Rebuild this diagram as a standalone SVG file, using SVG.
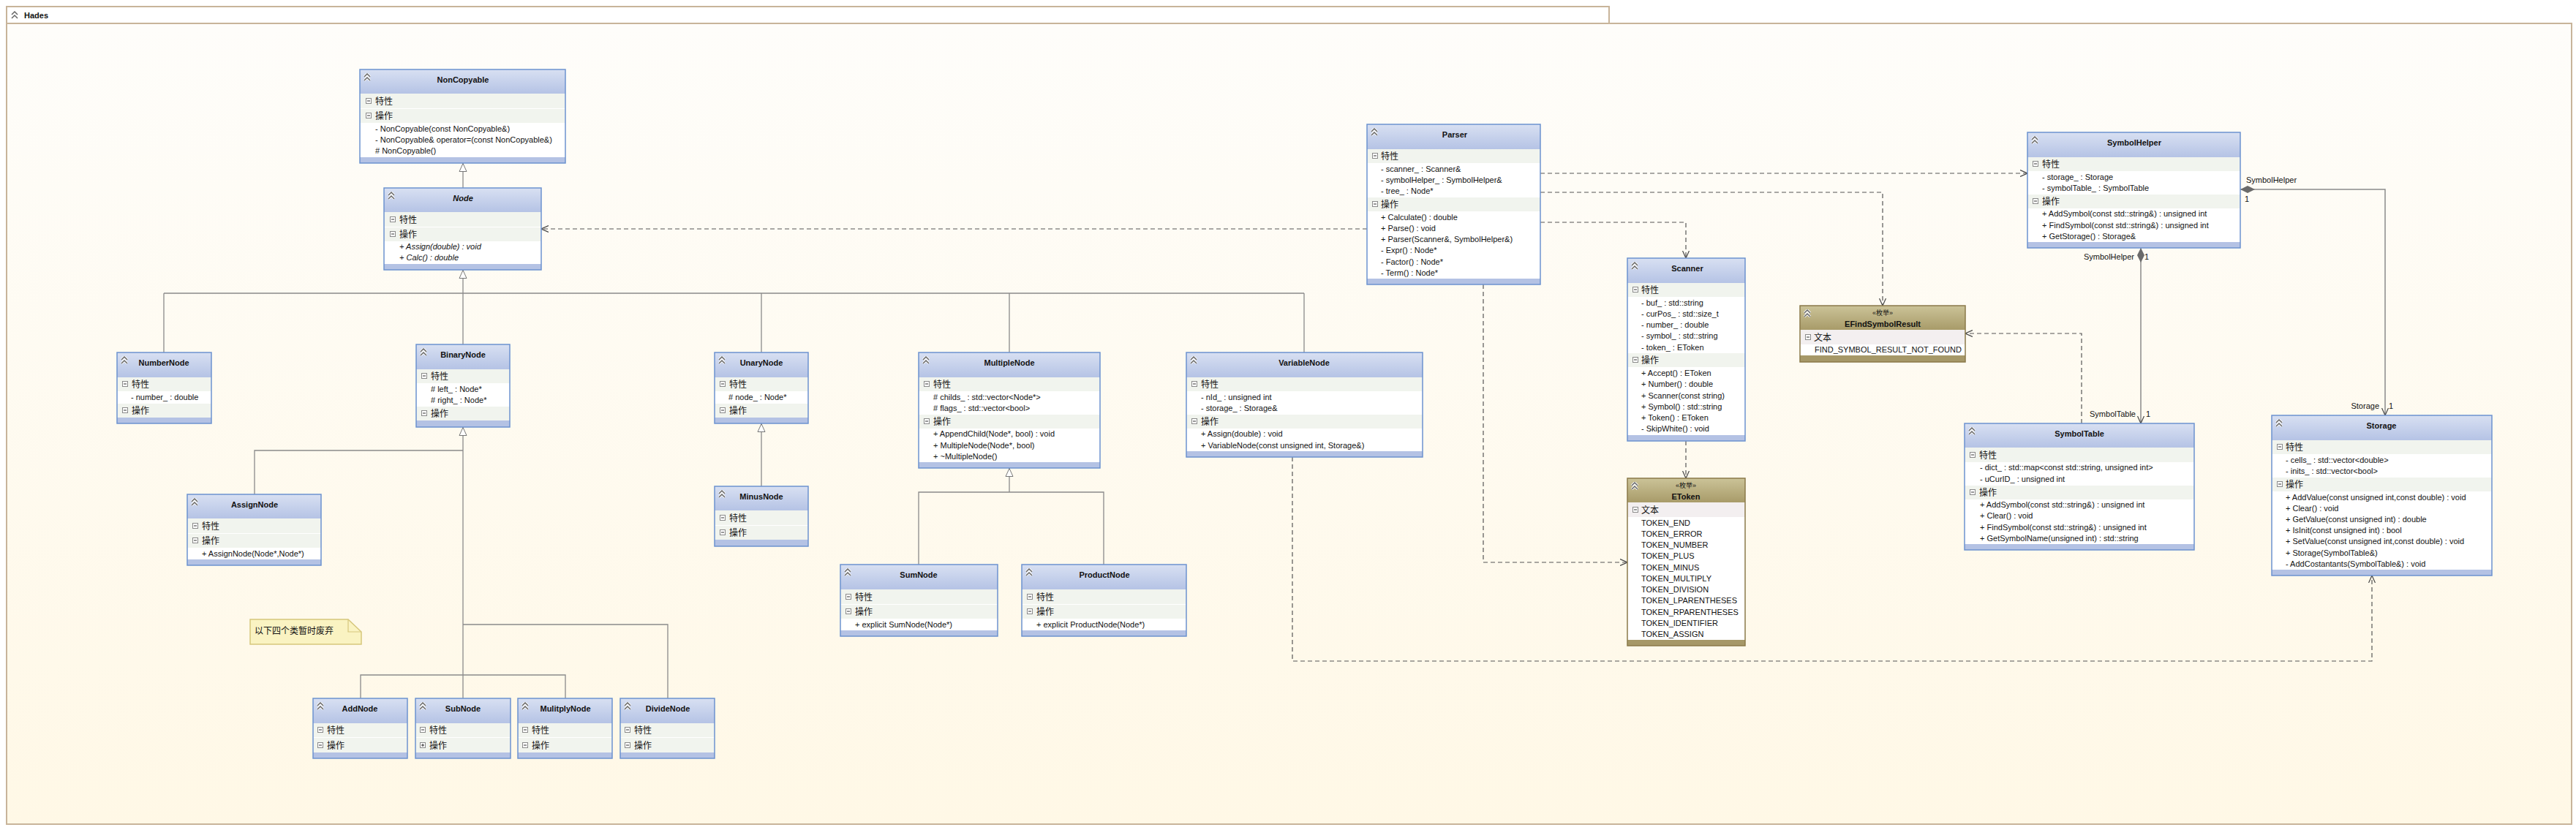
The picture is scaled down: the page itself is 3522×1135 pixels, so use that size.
<svg xmlns="http://www.w3.org/2000/svg" xmlns:xlink="http://www.w3.org/1999/xlink" width="3522" height="1135" viewBox="0 0 3522 1135">
<defs>
<linearGradient id="bg" x1="0" y1="0" x2="0" y2="1"><stop offset="0" stop-color="#FEFDFA"/><stop offset="1" stop-color="#FFF8E6"/></linearGradient>
<linearGradient id="gb" x1="0" y1="0" x2="0" y2="1"><stop offset="0" stop-color="#D8E0F2"/><stop offset="1" stop-color="#B5C3E5"/></linearGradient>
<linearGradient id="ge" x1="0" y1="0" x2="0" y2="1"><stop offset="0" stop-color="#CBC398"/><stop offset="1" stop-color="#A89B69"/></linearGradient>
<symbol id="chev" viewBox="0 0 10 11"><path d="M1,5 L5,1 L9,5 M1,10 L5,6 L9,10" fill="none" stroke="#fff" stroke-width="3.2"/><path d="M1,5 L5,1 L9,5 M1,10 L5,6 L9,10" fill="none" stroke="#666" stroke-width="1.5"/></symbol>
<symbol id="mn" viewBox="0 0 8 8"><rect x="0.5" y="0.5" width="7" height="7" fill="#fff" stroke="#8A8A8A"/><path d="M2,4 H6" stroke="#333"/></symbol>
<symbol id="pl" viewBox="0 0 8 8"><rect x="0.5" y="0.5" width="7" height="7" fill="#fff" stroke="#8A8A8A"/><path d="M2,4 H6 M4,2 V6" stroke="#333"/></symbol>
<marker id="open" viewBox="0 0 10 10" refX="10" refY="5" markerWidth="10" markerHeight="10" orient="auto" markerUnits="userSpaceOnUse"><path d="M0,0.5 L10,5 L0,9.5" fill="none" stroke="#444" stroke-width="1.2"/></marker>
<marker id="tri" viewBox="0 0 12 12" refX="12" refY="6" markerWidth="12" markerHeight="12" orient="auto" markerUnits="userSpaceOnUse"><path d="M0.5,1 L11.5,6 L0.5,11 Z" fill="#fff" stroke="#777" stroke-width="1"/></marker>
<marker id="dia" viewBox="0 0 20 10" refX="0" refY="5" markerWidth="20" markerHeight="10" orient="auto" markerUnits="userSpaceOnUse"><path d="M0,5 L10,0 L20,5 L10,10 Z" fill="#6A6A6A"/></marker>
</defs>
<style>
.frame{fill:url(#bg);stroke:#C8B49A;stroke-width:2}
.tab{fill:#fff;stroke:#C8B49A;stroke-width:2}
.cls{fill:#fff}
.hd{fill:url(#gb)}
.ehd{fill:url(#ge)}
.sec{fill:#F1F4EE}
.esec{fill:#F3EFF0}
.bar{fill:#B4C2E4}
.ebar{fill:#A69868}
.bd{fill:none;stroke:#6C92CF;stroke-width:1.5}
.ebd{fill:none;stroke:#8B7A4A;stroke-width:1.5}
text{font-family:"Liberation Sans","Noto Sans CJK SC",Arial,sans-serif;fill:#111}
.nm{font-size:11px;font-weight:bold;text-anchor:middle}
.st{font-size:9px;text-anchor:middle;font-family:"Liberation Sans","Noto Sans CJK SC",sans-serif}
.cm{font-size:12px;font-family:"Noto Sans CJK SC",sans-serif}
.it{font-size:11px}
.ii{font-size:11px;font-style:italic}
.lb{font-size:11px}
.gen{fill:none;stroke:#8A8A8A;stroke-width:1.3}
.dep{fill:none;stroke:#555;stroke-width:1.2;stroke-dasharray:6 4}
.cmp{fill:none;stroke:#8A8A8A;stroke-width:1.5}
.note{fill:#FAF3C2;stroke:#D6C77C;stroke-width:1.5}
</style>

<g id="frame">
<rect class="frame" x="9" y="32" width="3507" height="1095"/>
<rect class="tab" x="9" y="9" width="2191" height="23"/>
<use href="#chev" x="15" y="15" width="10" height="11"/>
<text x="33" y="25" style="font-size:11px;font-weight:bold">Hades</text>
</g>

<g id="connectors">
<!-- generalizations -->
<path class="gen" d="M633,257 V223" marker-end="url(#tri)"/>
<path class="gen" d="M633,401 V369" marker-end="url(#tri)"/>
<path class="gen" d="M224,401 H1783 M224,401 V482 M633,401 V471 M1041,401 V482 M1380,401 V482 M1783,401 V482"/>
<path class="gen" d="M633,955 V584" marker-end="url(#tri)"/>
<path class="gen" d="M633,616 H348 V676 M633,854 H913 V955 M493,955 V923 H773 V955"/>
<path class="gen" d="M1041,665 V579" marker-end="url(#tri)"/>
<path class="gen" d="M1380,673 V640" marker-end="url(#tri)"/>
<path class="gen" d="M1256,772 V673 H1509 V772"/>
<!-- dependencies -->
<path class="dep" d="M1869,313 H740" marker-end="url(#open)"/>
<path class="dep" d="M2106,237 H2772" marker-end="url(#open)"/>
<path class="dep" d="M2106,263 H2574 V418" marker-end="url(#open)"/>
<path class="dep" d="M2106,304 H2305 V353" marker-end="url(#open)"/>
<path class="dep" d="M2028,389 V769 H2225" marker-end="url(#open)"/>
<path class="dep" d="M2305,603 V654" marker-end="url(#open)"/>
<path class="dep" d="M2846,579 V456 H2687" marker-end="url(#open)"/>
<path class="dep" d="M1767,625 V904 H3243 V787" marker-end="url(#open)"/>
<!-- compositions -->
<path class="cmp" d="M3063,259 H3261 V568" marker-start="url(#dia)" marker-end="url(#open)"/>
<path class="cmp" d="M2927,339 V579" marker-start="url(#dia)" marker-end="url(#open)"/>
<text class="lb" x="3071" y="250">SymbolHelper</text>
<text class="lb" x="3069" y="276">1</text>
<text class="lb" x="3253" y="559" text-anchor="end">Storage</text>
<text class="lb" x="3266" y="559">1</text>
<text class="lb" x="2918" y="355" text-anchor="end">SymbolHelper</text>
<text class="lb" x="2932" y="355">1</text>
<text class="lb" x="2920" y="570" text-anchor="end">SymbolTable</text>
<text class="lb" x="2934" y="570">1</text>
</g>

<g id="NonCopyable" transform="translate(492,95)">
<rect class="cls" width="281" height="128"/>
<rect class="hd" width="281" height="33"/>
<use href="#chev" x="5" y="5" width="10" height="11"/>
<text class="nm" x="141" y="18">NonCopyable</text>
<rect class="sec" y="33" width="281" height="20"/><use href="#mn" x="8" y="39" width="8" height="8"/><text class="cm" x="21" y="48">特性</text>
<rect class="sec" y="54" width="281" height="19"/><use href="#mn" x="8" y="59" width="8" height="8"/><text class="cm" x="21" y="68">操作</text>
<text class="it" x="21" y="85">- NonCopyable(const NonCopyable&amp;)</text>
<text class="it" x="21" y="100">- NonCopyable&amp; operator=(const NonCopyable&amp;)</text>
<text class="it" x="21" y="115"># NonCopyable()</text>
<rect class="bar" y="120" width="281" height="8"/>
<rect class="bd" width="281" height="128"/>
</g>

<g id="Node" transform="translate(525,257)">
<rect class="cls" width="215" height="112"/>
<rect class="hd" width="215" height="33"/>
<use href="#chev" x="5" y="5" width="10" height="11"/>
<text class="nm" x="108" y="18" font-style="italic">Node</text>
<rect class="sec" y="33" width="215" height="20"/><use href="#mn" x="8" y="39" width="8" height="8"/><text class="cm" x="21" y="48">特性</text>
<rect class="sec" y="54" width="215" height="19"/><use href="#mn" x="8" y="59" width="8" height="8"/><text class="cm" x="21" y="68">操作</text>
<text class="ii" x="21" y="84">+ Assign(double) : void</text>
<text class="ii" x="21" y="99">+ Calc() : double</text>
<rect class="bar" y="104" width="215" height="8"/>
<rect class="bd" width="215" height="112"/>
</g>

<g id="NumberNode" transform="translate(160,482)">
<rect class="cls" width="129" height="97"/>
<rect class="hd" width="129" height="34"/>
<use href="#chev" x="5" y="5" width="10" height="11"/>
<text class="nm" x="64" y="18">NumberNode</text>
<rect class="sec" y="34" width="129" height="19"/><use href="#mn" x="7" y="39" width="8" height="8"/><text class="cm" x="20" y="48">特性</text>
<text class="it" x="19" y="65">- number_ : double</text>
<rect class="sec" y="70" width="129" height="19"/><use href="#mn" x="7" y="75" width="8" height="8"/><text class="cm" x="20" y="84">操作</text>
<rect class="bar" y="89" width="129" height="8"/>
<rect class="bd" width="129" height="97"/>
</g>

<g id="BinaryNode" transform="translate(569,471)">
<rect class="cls" width="128" height="113"/>
<rect class="hd" width="128" height="34"/>
<use href="#chev" x="5" y="5" width="10" height="11"/>
<text class="nm" x="64" y="18">BinaryNode</text>
<rect class="sec" y="34" width="128" height="19"/><use href="#mn" x="7" y="39" width="8" height="8"/><text class="cm" x="20" y="48">特性</text>
<text class="it" x="20" y="65"># left_ : Node*</text>
<text class="it" x="20" y="80"># right_ : Node*</text>
<rect class="sec" y="85" width="128" height="19"/><use href="#mn" x="7" y="90" width="8" height="8"/><text class="cm" x="20" y="99">操作</text>
<rect class="bar" y="104" width="128" height="9"/>
<rect class="bd" width="128" height="113"/>
</g>

<g id="UnaryNode" transform="translate(977,482)">
<rect class="cls" width="128" height="97"/>
<rect class="hd" width="128" height="34"/>
<use href="#chev" x="5" y="5" width="10" height="11"/>
<text class="nm" x="64" y="18">UnaryNode</text>
<rect class="sec" y="34" width="128" height="19"/><use href="#mn" x="7" y="39" width="8" height="8"/><text class="cm" x="20" y="48">特性</text>
<text class="it" x="19" y="65"># node_ : Node*</text>
<rect class="sec" y="70" width="128" height="19"/><use href="#mn" x="7" y="75" width="8" height="8"/><text class="cm" x="20" y="84">操作</text>
<rect class="bar" y="89" width="128" height="8"/>
<rect class="bd" width="128" height="97"/>
</g>

<g id="MinusNode" transform="translate(977,665)">
<rect class="cls" width="128" height="82"/>
<rect class="hd" width="128" height="33"/>
<use href="#chev" x="5" y="5" width="10" height="11"/>
<text class="nm" x="64" y="18">MinusNode</text>
<rect class="sec" y="33" width="128" height="20"/><use href="#mn" x="7" y="39" width="8" height="8"/><text class="cm" x="20" y="48">特性</text>
<rect class="sec" y="54" width="128" height="19"/><use href="#mn" x="7" y="59" width="8" height="8"/><text class="cm" x="20" y="68">操作</text>
<rect class="bar" y="73" width="128" height="9"/>
<rect class="bd" width="128" height="82"/>
</g>

<g id="AssignNode" transform="translate(256,676)">
<rect class="cls" width="183" height="97"/>
<rect class="hd" width="183" height="33"/>
<use href="#chev" x="5" y="5" width="10" height="11"/>
<text class="nm" x="92" y="18">AssignNode</text>
<rect class="sec" y="33" width="183" height="20"/><use href="#mn" x="7" y="39" width="8" height="8"/><text class="cm" x="20" y="48">特性</text>
<rect class="sec" y="54" width="183" height="19"/><use href="#mn" x="7" y="59" width="8" height="8"/><text class="cm" x="20" y="68">操作</text>
<text class="it" x="20" y="85">+ AssignNode(Node*,Node*)</text>
<rect class="bar" y="89" width="183" height="8"/>
<rect class="bd" width="183" height="97"/>
</g>

<g id="note">
<path class="note" d="M342,847 H476 L494,864 V881 H342 Z"/>
<path d="M476,847 V864 H494" fill="none" stroke="#D6C77C" stroke-width="1.2"/>
<text class="cm" x="348" y="867">以下四个类暂时废弃</text>
</g>

<g id="AddNode" transform="translate(428,955)">
<rect class="cls" width="129" height="82"/>
<rect class="hd" width="129" height="34"/>
<use href="#chev" x="5" y="5" width="10" height="11"/>
<text class="nm" x="64" y="18">AddNode</text>
<rect class="sec" y="34" width="129" height="19"/><use href="#mn" x="6" y="39" width="8" height="8"/><text class="cm" x="19" y="48">特性</text>
<rect class="sec" y="54" width="129" height="20"/><use href="#mn" x="6" y="60" width="8" height="8"/><text class="cm" x="19" y="69">操作</text>
<rect class="bar" y="74" width="129" height="8"/>
<rect class="bd" width="129" height="82"/>
</g>

<g id="SubNode" transform="translate(568,955)">
<rect class="cls" width="130" height="82"/>
<rect class="hd" width="130" height="34"/>
<use href="#chev" x="5" y="5" width="10" height="11"/>
<text class="nm" x="65" y="18">SubNode</text>
<rect class="sec" y="34" width="130" height="19"/><use href="#mn" x="6" y="39" width="8" height="8"/><text class="cm" x="19" y="48">特性</text>
<rect class="sec" y="54" width="130" height="20"/><use href="#pl" x="6" y="60" width="8" height="8"/><text class="cm" x="19" y="69">操作</text>
<rect class="bar" y="74" width="130" height="8"/>
<rect class="bd" width="130" height="82"/>
</g>

<g id="MulitplyNode" transform="translate(708,955)">
<rect class="cls" width="129" height="82"/>
<rect class="hd" width="129" height="34"/>
<use href="#chev" x="5" y="5" width="10" height="11"/>
<text class="nm" x="65" y="18">MulitplyNode</text>
<rect class="sec" y="34" width="129" height="19"/><use href="#mn" x="6" y="39" width="8" height="8"/><text class="cm" x="19" y="48">特性</text>
<rect class="sec" y="54" width="129" height="20"/><use href="#mn" x="6" y="60" width="8" height="8"/><text class="cm" x="19" y="69">操作</text>
<rect class="bar" y="74" width="129" height="8"/>
<rect class="bd" width="129" height="82"/>
</g>

<g id="DivideNode" transform="translate(848,955)">
<rect class="cls" width="129" height="82"/>
<rect class="hd" width="129" height="34"/>
<use href="#chev" x="5" y="5" width="10" height="11"/>
<text class="nm" x="65" y="18">DivideNode</text>
<rect class="sec" y="34" width="129" height="19"/><use href="#mn" x="6" y="39" width="8" height="8"/><text class="cm" x="19" y="48">特性</text>
<rect class="sec" y="54" width="129" height="20"/><use href="#mn" x="6" y="60" width="8" height="8"/><text class="cm" x="19" y="69">操作</text>
<rect class="bar" y="74" width="129" height="8"/>
<rect class="bd" width="129" height="82"/>
</g>

<g id="MultipleNode" transform="translate(1256,482)">
<rect class="cls" width="248" height="158"/>
<rect class="hd" width="248" height="34"/>
<use href="#chev" x="5" y="5" width="10" height="11"/>
<text class="nm" x="124" y="18">MultipleNode</text>
<rect class="sec" y="34" width="248" height="19"/><use href="#mn" x="7" y="39" width="8" height="8"/><text class="cm" x="20" y="48">特性</text>
<text class="it" x="20" y="65"># childs_ : std::vector&lt;Node*&gt;</text>
<text class="it" x="20" y="80"># flags_ : std::vector&lt;bool&gt;</text>
<rect class="sec" y="85" width="248" height="19"/><use href="#mn" x="7" y="90" width="8" height="8"/><text class="cm" x="20" y="99">操作</text>
<text class="it" x="20" y="115">+ AppendChild(Node*, bool) : void</text>
<text class="it" x="20" y="131">+ MultipleNode(Node*, bool)</text>
<text class="it" x="20" y="146">+ ~MultipleNode()</text>
<rect class="bar" y="150" width="248" height="8"/>
<rect class="bd" width="248" height="158"/>
</g>

<g id="SumNode" transform="translate(1149,772)">
<rect class="cls" width="215" height="98"/>
<rect class="hd" width="215" height="34"/>
<use href="#chev" x="5" y="5" width="10" height="11"/>
<text class="nm" x="107" y="18">SumNode</text>
<rect class="sec" y="34" width="215" height="20"/><use href="#mn" x="7" y="40" width="8" height="8"/><text class="cm" x="20" y="49">特性</text>
<rect class="sec" y="55" width="215" height="19"/><use href="#mn" x="7" y="60" width="8" height="8"/><text class="cm" x="20" y="69">操作</text>
<text class="it" x="20" y="86">+ explicit SumNode(Node*)</text>
<rect class="bar" y="90" width="215" height="8"/>
<rect class="bd" width="215" height="98"/>
</g>

<g id="ProductNode" transform="translate(1397,772)">
<rect class="cls" width="225" height="98"/>
<rect class="hd" width="225" height="34"/>
<use href="#chev" x="5" y="5" width="10" height="11"/>
<text class="nm" x="113" y="18">ProductNode</text>
<rect class="sec" y="34" width="225" height="20"/><use href="#mn" x="7" y="40" width="8" height="8"/><text class="cm" x="20" y="49">特性</text>
<rect class="sec" y="55" width="225" height="19"/><use href="#mn" x="7" y="60" width="8" height="8"/><text class="cm" x="20" y="69">操作</text>
<text class="it" x="20" y="86">+ explicit ProductNode(Node*)</text>
<rect class="bar" y="90" width="225" height="8"/>
<rect class="bd" width="225" height="98"/>
</g>

<g id="VariableNode" transform="translate(1622,482)">
<rect class="cls" width="323" height="143"/>
<rect class="hd" width="323" height="34"/>
<use href="#chev" x="5" y="5" width="10" height="11"/>
<text class="nm" x="161" y="18">VariableNode</text>
<rect class="sec" y="34" width="323" height="19"/><use href="#mn" x="7" y="39" width="8" height="8"/><text class="cm" x="20" y="48">特性</text>
<text class="it" x="20" y="65">- nId_ : unsigned int</text>
<text class="it" x="20" y="80">- storage_ : Storage&amp;</text>
<rect class="sec" y="85" width="323" height="19"/><use href="#mn" x="7" y="90" width="8" height="8"/><text class="cm" x="20" y="99">操作</text>
<text class="it" x="20" y="115">+ Assign(double) : void</text>
<text class="it" x="20" y="131">+ VariableNode(const unsigned int, Storage&amp;)</text>
<rect class="bar" y="135" width="323" height="8"/>
<rect class="bd" width="323" height="143"/>
</g>

<g id="Parser" transform="translate(1869,170)">
<rect class="cls" width="237" height="219"/>
<rect class="hd" width="237" height="34"/>
<use href="#chev" x="5" y="5" width="10" height="11"/>
<text class="nm" x="120" y="18">Parser</text>
<rect class="sec" y="34" width="237" height="19"/><use href="#mn" x="7" y="39" width="8" height="8"/><text class="cm" x="19" y="48">特性</text>
<text class="it" x="19" y="65">- scanner_ : Scanner&amp;</text>
<text class="it" x="19" y="80">- symbolHelper_ : SymbolHelper&amp;</text>
<text class="it" x="19" y="95">- tree_ : Node*</text>
<rect class="sec" y="100" width="237" height="19"/><use href="#mn" x="7" y="105" width="8" height="8"/><text class="cm" x="19" y="114">操作</text>
<text class="it" x="19" y="131">+ Calculate() : double</text>
<text class="it" x="19" y="146">+ Parse() : void</text>
<text class="it" x="19" y="161">+ Parser(Scanner&amp;, SymbolHelper&amp;)</text>
<text class="it" x="19" y="176">- Expr() : Node*</text>
<text class="it" x="19" y="192">- Factor() : Node*</text>
<text class="it" x="19" y="207">- Term() : Node*</text>
<rect class="bar" y="211" width="237" height="8"/>
<rect class="bd" width="237" height="219"/>
</g>

<g id="Scanner" transform="translate(2225,353)">
<rect class="cls" width="161" height="250"/>
<rect class="hd" width="161" height="34"/>
<use href="#chev" x="5" y="5" width="10" height="11"/>
<text class="nm" x="82" y="18">Scanner</text>
<rect class="sec" y="34" width="161" height="19"/><use href="#mn" x="7" y="39" width="8" height="8"/><text class="cm" x="19" y="48">特性</text>
<text class="it" x="19" y="65">- buf_ : std::string</text>
<text class="it" x="19" y="80">- curPos_ : std::size_t</text>
<text class="it" x="19" y="95">- number_ : double</text>
<text class="it" x="19" y="110">- symbol_ : std::string</text>
<text class="it" x="19" y="126">- token_ : EToken</text>
<rect class="sec" y="130" width="161" height="19"/><use href="#mn" x="7" y="135" width="8" height="8"/><text class="cm" x="19" y="144">操作</text>
<text class="it" x="19" y="161">+ Accept() : EToken</text>
<text class="it" x="19" y="176">+ Number() : double</text>
<text class="it" x="19" y="192">+ Scanner(const string)</text>
<text class="it" x="19" y="207">+ Symbol() : std::string</text>
<text class="it" x="19" y="222">+ Token() : EToken</text>
<text class="it" x="19" y="237">- SkipWhite() : void</text>
<rect class="bar" y="242" width="161" height="8"/>
<rect class="bd" width="161" height="250"/>
</g>

<g id="EToken" transform="translate(2225,654)">
<rect class="cls" width="161" height="229"/>
<rect class="ehd" width="161" height="33"/>
<use href="#chev" x="5" y="5" width="10" height="11"/>
<text class="st" x="80" y="13">«枚举»</text>
<text class="nm" x="80" y="29">EToken</text>
<rect class="esec" y="33" width="161" height="20"/><use href="#mn" x="7" y="39" width="8" height="8"/><text class="cm" x="19" y="48">文本</text>
<text class="it" x="19" y="65">TOKEN_END</text>
<text class="it" x="19" y="80">TOKEN_ERROR</text>
<text class="it" x="19" y="95">TOKEN_NUMBER</text>
<text class="it" x="19" y="110">TOKEN_PLUS</text>
<text class="it" x="19" y="126">TOKEN_MINUS</text>
<text class="it" x="19" y="141">TOKEN_MULTIPLY</text>
<text class="it" x="19" y="156">TOKEN_DIVISION</text>
<text class="it" x="19" y="171">TOKEN_LPARENTHESES</text>
<text class="it" x="19" y="187">TOKEN_RPARENTHESES</text>
<text class="it" x="19" y="202">TOKEN_IDENTIFIER</text>
<text class="it" x="19" y="217">TOKEN_ASSIGN</text>
<rect class="ebar" y="221" width="161" height="8"/>
<rect class="ebd" width="161" height="229"/>
</g>

<g id="EFindSymbolResult" transform="translate(2461,418)">
<rect class="cls" width="226" height="77"/>
<rect class="ehd" width="226" height="33"/>
<use href="#chev" x="5" y="5" width="10" height="11"/>
<text class="st" x="113" y="13">«枚举»</text>
<text class="nm" x="113" y="29">EFindSymbolResult</text>
<rect class="esec" y="33" width="226" height="20"/><use href="#mn" x="7" y="39" width="8" height="8"/><text class="cm" x="19" y="48">文本</text>
<text class="it" x="20" y="64">FIND_SYMBOL_RESULT_NOT_FOUND</text>
<rect class="ebar" y="68" width="226" height="9"/>
<rect class="ebd" width="226" height="77"/>
</g>

<g id="SymbolHelper" transform="translate(2772,181)">
<rect class="cls" width="291" height="158"/>
<rect class="hd" width="291" height="34"/>
<use href="#chev" x="5" y="5" width="10" height="11"/>
<text class="nm" x="146" y="18">SymbolHelper</text>
<rect class="sec" y="34" width="291" height="19"/><use href="#mn" x="7" y="39" width="8" height="8"/><text class="cm" x="20" y="48">特性</text>
<text class="it" x="20" y="65">- storage_ : Storage</text>
<text class="it" x="20" y="80">- symbolTable_ : SymbolTable</text>
<rect class="sec" y="85" width="291" height="19"/><use href="#mn" x="7" y="90" width="8" height="8"/><text class="cm" x="20" y="99">操作</text>
<text class="it" x="20" y="115">+ AddSymbol(const std::string&amp;) : unsigned int</text>
<text class="it" x="20" y="131">+ FindSymbol(const std::string&amp;) : unsigned int</text>
<text class="it" x="20" y="146">+ GetStorage() : Storage&amp;</text>
<rect class="bar" y="150" width="291" height="8"/>
<rect class="bd" width="291" height="158"/>
</g>

<g id="SymbolTable" transform="translate(2686,579)">
<rect class="cls" width="314" height="173"/>
<rect class="hd" width="314" height="33"/>
<use href="#chev" x="5" y="5" width="10" height="11"/>
<text class="nm" x="157" y="18">SymbolTable</text>
<rect class="sec" y="33" width="314" height="20"/><use href="#mn" x="7" y="39" width="8" height="8"/><text class="cm" x="20" y="48">特性</text>
<text class="it" x="21" y="64">- dict_ : std::map&lt;const std::string, unsigned int&gt;</text>
<text class="it" x="21" y="80">- uCurID_ : unsigned int</text>
<rect class="sec" y="85" width="314" height="19"/><use href="#mn" x="7" y="90" width="8" height="8"/><text class="cm" x="20" y="99">操作</text>
<text class="it" x="21" y="115">+ AddSymbol(const std::string&amp;) : unsigned int</text>
<text class="it" x="21" y="130">+ Clear() : void</text>
<text class="it" x="21" y="146">+ FindSymbol(const std::string&amp;) : unsigned int</text>
<text class="it" x="21" y="161">+ GetSymbolName(unsigned int) : std::string</text>
<rect class="bar" y="165" width="314" height="8"/>
<rect class="bd" width="314" height="173"/>
</g>

<g id="Storage" transform="translate(3106,568)">
<rect class="cls" width="301" height="219"/>
<rect class="hd" width="301" height="34"/>
<use href="#chev" x="5" y="5" width="10" height="11"/>
<text class="nm" x="150" y="18">Storage</text>
<rect class="sec" y="34" width="301" height="19"/><use href="#mn" x="7" y="39" width="8" height="8"/><text class="cm" x="19" y="48">特性</text>
<text class="it" x="19" y="65">- cells_ : std::vector&lt;double&gt;</text>
<text class="it" x="19" y="80">- inits_ : std::vector&lt;bool&gt;</text>
<rect class="sec" y="85" width="301" height="19"/><use href="#mn" x="7" y="90" width="8" height="8"/><text class="cm" x="19" y="99">操作</text>
<text class="it" x="19" y="116">+ AddValue(const unsigned int,const double) : void</text>
<text class="it" x="19" y="131">+ Clear() : void</text>
<text class="it" x="19" y="146">+ GetValue(const unsigned int) : double</text>
<text class="it" x="19" y="161">+ IsInit(const unsigned int) : bool</text>
<text class="it" x="19" y="176">+ SetValue(const unsigned int,const double) : void</text>
<text class="it" x="19" y="192">+ Storage(SymbolTable&amp;)</text>
<text class="it" x="19" y="207">- AddCostantants(SymbolTable&amp;) : void</text>
<rect class="bar" y="211" width="301" height="8"/>
<rect class="bd" width="301" height="219"/>
</g>
</svg>
